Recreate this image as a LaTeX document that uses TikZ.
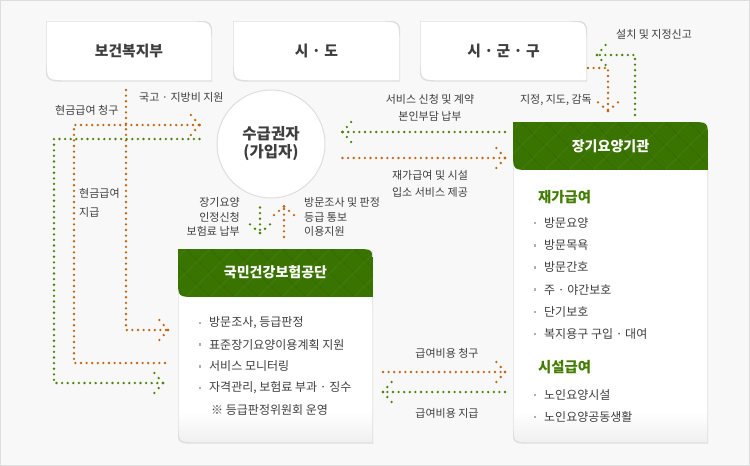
\documentclass[tikz,border=0pt]{standalone}
\usepackage{fontspec}
\setmainfont{Noto Sans CJK KR}
\usepackage{tikz}
\usetikzlibrary{calc, positioning, decorations.markings}
\definecolor{bggray}{RGB}{248,248,248}
\definecolor{edgegray}{RGB}{222,222,222}
\definecolor{txtgray}{RGB}{62,62,62}
\definecolor{dotor}{RGB}{192,102,20}
\definecolor{dotgr}{RGB}{76,130,12}
\definecolor{hdrgreen}{RGB}{58,116,0}
\definecolor{secgreen}{RGB}{66,124,0}
\definecolor{bulgray}{RGB}{175,175,175}
\newcommand{\leafpath}[3]{(#1) -- ($(#2|-#1)+(-#3,0)$) .. controls (#2|-#1) .. ($(#2|-#1)+(0,#3)$) -- (#2) -- ($(#1|-#2)+(#3,0)$) .. controls (#1|-#2) .. ($(#1|-#2)+(0,-#3)$) -- cycle}
\tikzset{
  dotline/.style={line width=2.6pt, line cap=round, dash pattern=on 0pt off 5.6pt},
  orline/.style={dotline, color=dotor},
  grline/.style={dotline, color=dotgr},
  dtip/.style={postaction={decorate, decoration={markings,
    mark=at position 1 with {\foreach \i in {0,1,2} {
      \fill (-4.3*\i,5*\i) circle (1.3pt); \fill (-4.3*\i,-5*\i) circle (1.3pt);}}}}},
  topbox/.style={rectangle, inner sep=0pt, outer sep=0pt, fill=bggray,
    minimum width=166pt, minimum height=60pt,
    font=\fontsize{14.8}{17}\selectfont\bfseries, text=txtgray,
    path picture={
      \coordinate (pa) at (path picture bounding box.north west);
      \coordinate (pb) at (path picture bounding box.south east);
      \fill[white] \leafpath{pa}{pb}{22};
      \draw[edgegray, line width=1.4pt] \leafpath{pa}{pb}{22};
    }},
  bigbox/.style={rectangle, inner sep=0pt, outer sep=0pt, fill=bggray,
    minimum width=195pt,
    path picture={
      \coordinate (pa) at (path picture bounding box.north west);
      \coordinate (pb) at (path picture bounding box.south east);
      \coordinate (pc) at ($(pb|-pa)+(0,48)$);
      \fill[white] \leafpath{pa}{pb}{18};
      \begin{scope}
        \clip \leafpath{pa}{pb}{18};
        \shade[top color=white, bottom color=black!6] ($(pa|-pb)+(0,-32)$) rectangle (pb);
      \end{scope}
      \draw[edgegray, line width=1.4pt] \leafpath{pa}{pb}{18};
      \begin{scope}
        \clip \leafpath{pa}{pc}{18};
        \fill[hdrgreen] (pa) rectangle (pc);
        \foreach \k in {-40,-16,...,230} {
          \draw[black, opacity=0.07, line width=0.8pt] ($(pa)+(\k,0)$) -- ++(48,48);
          \draw[white, opacity=0.05, line width=0.8pt] ($(pa)+(\k,0)$) -- ++(-48,48);
        }
      \end{scope}
    }},
  benef/.style={circle, draw=edgegray, line width=1pt, fill=white, minimum size=108pt,
    inner sep=0pt, align=center, font=\fontsize{15.5}{18}\selectfont\bfseries, text=txtgray},
  hdr/.style={font=\fontsize{14}{16}\selectfont\bfseries, text=white, inner sep=0pt},
  sec/.style={font=\fontsize{14.4}{16}\selectfont\bfseries, text=secgreen, anchor=west, inner sep=0pt},
  item/.style={font=\fontsize{12}{14}\selectfont, text=txtgray, anchor=west, inner sep=0pt},
  lbl/.style={font=\fontsize{11}{17}\selectfont, text=txtgray, inner sep=0pt}
}
\begin{document}
\begin{tikzpicture}[x=1pt, y=-1pt]
  \useasboundingbox (0,0) rectangle (750,466);
  \fill[bggray] (0,0) rectangle (750,466);
  \draw[edgegray, line width=1pt] (0.5,0.5) rectangle (749.5,465.5);

  \node[topbox] (mohw) at (129,51) {보건복지부};
  \node[topbox, minimum width=167pt] (sido) at (316.5,51) {시 · 도};
  \node[topbox, minimum width=167pt] (sigungu) at (503.5,51) {시 · 군 · 구};
  \node[benef] (benef) at (271,144) {수급권자\\(가입자)};

  \node[bigbox, minimum height=194pt] (nhis) at (275.5,346) {};
  \node[hdr] (nhishd) at ($(nhis.north)+(0,23)$) {국민건강보험공단};
  \node[bigbox, minimum height=321pt] (ltc) at (610.5,282.5) {};
  \node[hdr] (ltchd) at ($(ltc.north)+(0,24)$) {장기요양기관};

  % NHIS tasks
  \foreach \t [count=\i from 0] in {{방문조사, 등급판정}, 표준장기요양이용계획 지원, 서비스 모니터링, {자격관리, 보험료 부과 · 징수}} {
    \fill[bulgray] ($(nhis.north west)+(20.7,72.7+21.7*\i)$) rectangle +(2.6,2.6);
    \node[item] (nhitem\i) at ($(nhis.north west)+(31,74+21.7*\i)$) {\t};
  }
  \node[item] (nhnote) at ($(nhis.north west)+(33,161)$) {※ 등급판정위원회 운영};

  % care services
  \node[sec] (homecare) at ($(ltc.north west)+(25,75)$) {재가급여};
  \foreach \t [count=\i from 0] in {방문요양, 방문목욕, 방문간호, 주 · 야간보호, 단기보호, 복지용구 구입 · 대여} {
    \fill[bulgray] ($(ltc.north west)+(20.7,99.7+22.2*\i)$) rectangle +(2.6,2.6);
    \node[item] (homeitem\i) at ($(ltc.north west)+(31,101+22.2*\i)$) {\t};
  }
  \node[sec] (facility) at ($(ltc.north west)+(25,245)$) {시설급여};
  \foreach \t [count=\i from 0] in {노인요양시설, 노인요양공동생활} {
    \fill[bulgray] ($(ltc.north west)+(20.7,271.7+22*\i)$) rectangle +(2.6,2.6);
    \node[item] (facitem\i) at ($(ltc.north west)+(31,273+22*\i)$) {\t};
  }

  \coordinate (govsrc) at (126,90);
  \coordinate (cashbend) at (74,125);
  \coordinate (claimbend) at (54,383);
  \draw[orline, dtip] (govsrc) |- ($(nhis.north west)+(-10,81)$);
  \draw[orline, dtip] ($(nhis.north west)+(-13,114)$) -| (cashbend) -- ($(benef.west)+(-17,-19)$);
  \draw[grline, dtip] ($(benef.west)+(-17,-5)$) -| (claimbend) -- ($(nhis.north west)+(-15,134)$);
  \draw[grline, dtip] ($(ltc.north west)+(-8,10)$) -- ($(benef.east)+(17,-12)$);
  \draw[orline, dtip] ($(benef.east)+(17,14)$) -- ($(ltc.north west)+(-8,36)$);
  \draw[orline, dtip] ($(nhis.east)+(10,26)$) -- ($(ltc.west)+(-8,89.5)$);
  \draw[grline, dtip] ($(ltc.west)+(-8,109.5)$) -- ($(nhis.east)+(10,46)$);
  \draw[grline, dtip] ($(benef.south)+(-11,9)$) -- ($(nhis.north)+(-15.5,-16)$);
  \draw[orline, dtip] ($(nhis.north)+(8.5,-12)$) -- ($(benef.south)+(13,8)$);
  \draw[orline, dtip] ($(sigungu.east)+(1,17)$) -| ($(ltc.north)+(-2.5,-11)$);
  \draw[grline, dtip] ($(ltc.north)+(24.5,-7)$) |- ($(sigungu.east)+(10,4)$);

  \node[lbl, anchor=west] (subsidy) at (139,97) {국고 · 지방비 지원};
  \node[lbl, anchor=west] (cashreq) at (55,110) {현금급여 청구};
  \node[lbl, anchor=west, align=left, font=\fontsize{11}{19}\selectfont] (cashpay) at (79,202.5) {현금급여\\지급};
  \node[lbl, align=center] (contract) at (430,107.5) {서비스 신청 및 계약\\본인부담 납부};
  \node[lbl, align=center] (provide) at (430,183.5) {재가급여 및 시설\\입소 서비스 제공};
  \node[lbl, anchor=east] (supervise) at (592,100) {지정, 지도, 감독};
  \node[lbl, anchor=west] (register) at (616,34) {설치 및 지정신고};
  \node[lbl, anchor=east, align=right, font=\fontsize{11}{14.5}\selectfont] (apply) at (240,217) {장기요양\\인정신청\\보험료 납부};
  \node[lbl, anchor=west, align=left, font=\fontsize{11}{14.5}\selectfont] (notify) at (304,217) {방문조사 및 판정\\등급 통보\\이용지원};
  \node[lbl] (billing) at (447,353) {급여비용 청구};
  \node[lbl] (payment) at (447,413) {급여비용 지급};
\end{tikzpicture}
\end{document}
